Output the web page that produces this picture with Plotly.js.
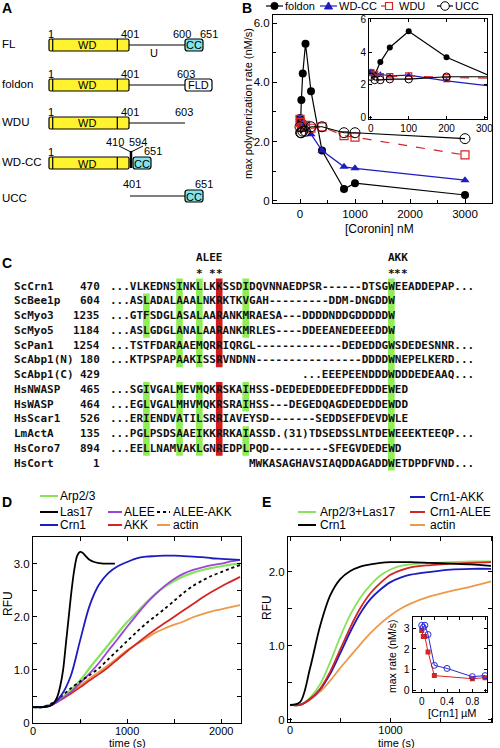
<!DOCTYPE html>
<html>
<head>
<meta charset="utf-8">
<script src="https://cdn.plot.ly/plotly-3.0.1.min.js"></script>
<style>
html,body{margin:0;padding:0;background:#fff;overflow:hidden}
#chart{width:500px;height:748px}
</style>
</head>
<body>
<div id="chart"></div>
<script>
// ================= DATA =================
// Panel A : constructs
const constructNames = ['FL', 'foldon', 'WDU', 'WD-CC', 'UCC'];

// Panel B : max polymerization rate vs coronin
const coroninConc = [0, 10, 25, 50, 100, 200, 400, 800, 1000, 3000];
const foldonRate  = [2.8, 2.6, 3.4, 4.3, 5.3, 3.7, 1.7, 0.4, 0.6, 0.2];
const wdccRate    = [2.8, 2.6, 2.65, 2.55, 2.6, 2.25, 1.7, 1.15, 1.1, 0.7];
const wduRate     = [2.75, 2.65, 2.5, 2.5, 2.55, 2.45, 2.5, 2.2, 2.15, 1.55];
const uccRate     = [2.5, 2.3, 2.3, 2.35, 2.35, 2.5, 2.5, 2.3, 2.3, 2.1];

// Panel C : alignment
const seqNames  = ['ScCrn1','ScBee1p','ScMyo3','ScMyo5','ScPan1','ScAbp1(N)','ScAbp1(C)','HsNWASP','HsWASP','HsScar1','LmActA','HsCoro7','HsCort'];
const seqStarts = ['470','604','1235','1184','1254','180','429','465','464','526','135','894','1'];
const seqTexts  = [
  '...VLKEDNSINKLLKKSSDIDQVNNAEDPSR------DTSGWEEADDEPAP...',
  '...ASLADALAAALNKRKTKVGAH---------DDM-DNGDDW',
  '...GTFSDGLASALAARANKMRAESA---DDDDNDDGDDDDDW',
  '...ASLGDGLANALAARANKMRLES----DDEEANEDEEEDDW',
  '...TSTFDARAAEMQRRIQRGL-------------DEDEDDGWSDEDESNNR...',
  '...KTPSPAPAAKISSRVNDNN----------------DDDDWNEPELKERD...',
  '...EEEPEENDDDWDDDEDEAAQ...',
  '...SGIVGALMEVMQKRSKAIHSS-DEDEDEDDEEDFEDDDEWED',
  '...EGLVGALMHVMQKRSRAIHSS---DEGEDQAGDEDEDDEWDD',
  '...ERIENDVATILSRRIAVEYSD-------SEDDSEFDEVDWLE',
  '...PGLPSDSAAEIKKRRKAIASSD.(31)TDSEDSSLNTDEWEEEKTEEQP...',
  '...EELLNAMVAKLGNREDPLPQD---------SFEGVDEDEWD',
  'MWKASAGHAVSIAQDDAGADDWETDPDFVND...'
];
const seqColOffset = [0,0,0,0,0,0,29,0,0,0,0,0,21];
const greenCols = [5, 10, 13, 20, 42];
const greenRows = [
  [1,2,3,7,8,9,10,11],
  [0,1,2,3,4,5,7,8,9,10,11],
  [0,1,2,3,4,5,7,8,9,10,11],
  [0,1,2,3,7,8,10,11],
  [0,1,2,3,4,5,6,7,8,9,10,11,12]
];
const redCols = [16];
const redRows = [[0,1,2,3,4,5,7,8,9,10,11]];

// Panel D : pyrene assays
const timeD    = [0,100,200,300,400,500,600,700,800,900,1000,1100,1200,1300,1400,1500,1600,1700,1800,1900,2000,2100,2200];
const arp23D   = [0.3,0.3,0.36,0.47,0.62,0.8,1.03,1.25,1.47,1.69,1.9,2.08,2.26,2.43,2.56,2.67,2.76,2.83,2.88,2.92,2.95,2.98,3.0];
const crn1D    = [0.3,0.3,0.34,0.52,0.88,1.55,2.2,2.6,2.82,2.95,3.03,3.1,3.13,3.14,3.15,3.15,3.14,3.13,3.12,3.1,3.09,3.08,3.07];
const aleeD    = [0.3,0.3,0.35,0.45,0.58,0.75,0.93,1.13,1.36,1.58,1.81,2.03,2.24,2.42,2.58,2.71,2.81,2.88,2.93,2.97,3.0,3.04,3.07];
const aleeAkkD = [0.3,0.3,0.37,0.5,0.65,0.78,0.9,1.03,1.2,1.37,1.54,1.71,1.87,2.01,2.15,2.3,2.45,2.58,2.68,2.77,2.84,2.91,2.97];
const akkD     = [0.3,0.3,0.34,0.44,0.55,0.67,0.8,0.92,1.05,1.2,1.35,1.49,1.63,1.76,1.88,2.0,2.12,2.24,2.36,2.47,2.57,2.66,2.75];
const actinD   = [0.3,0.3,0.34,0.45,0.57,0.7,0.84,0.96,1.09,1.23,1.37,1.48,1.59,1.7,1.78,1.85,1.91,1.99,2.05,2.1,2.14,2.18,2.22];
const timeLas17 = [0,100,180,230,260,290,320,350,380,410,440,470,500,530,560,600,650,700,750,800,870];
const las17D    = [0.3,0.3,0.32,0.4,0.5,0.7,1.0,1.5,2.0,2.5,2.9,3.15,3.22,3.2,3.14,3.07,3.03,3.01,3.0,3.0,3.0];

// Panel E
const timeE      = [0,100,200,300,400,500,600,700,800,900,1000,1100,1200,1400,1600,1800,2000];
const arpLasE    = [0.2,0.2,0.3,0.48,0.78,1.12,1.42,1.65,1.82,1.95,2.03,2.08,2.1,2.12,2.13,2.14,2.14];
const crn1E      = [0.2,0.24,0.7,1.27,1.68,1.9,2.01,2.07,2.1,2.12,2.13,2.13,2.13,2.12,2.11,2.1,2.08];
const crn1AkkE   = [0.2,0.2,0.28,0.41,0.62,0.9,1.19,1.44,1.63,1.76,1.86,1.92,1.96,2.0,2.03,2.04,2.04];
const crn1AleeE  = [0.2,0.2,0.28,0.42,0.65,0.95,1.25,1.51,1.71,1.85,1.96,2.02,2.06,2.09,2.11,2.12,2.13];
const actinE     = [0.2,0.2,0.27,0.38,0.53,0.7,0.86,1.02,1.17,1.3,1.41,1.5,1.57,1.67,1.74,1.8,1.87];
const crn1ConcAkk  = [0,0.025,0.05,0.1,0.2,0.4,0.8,1.0];
const maxRateAkk   = [3.15,3.05,3.15,2.7,1.2,1.05,0.65,0.7];
const crn1ConcAlee = [0,0.025,0.05,0.1,0.2,0.8,1.0];
const maxRateAlee  = [2.9,2.6,2.6,1.85,0.7,0.55,0.6];

// ================= HELPERS =================
const W = 500, H = 748;
const fx = x => x / W, fy = y => 1 - y / H;
const P = (x, y) => fx(x).toFixed(5) + ',' + fy(y).toFixed(5);
const FONT = 'Liberation Sans, Arial, Helvetica, sans-serif';
const MONO = 'DejaVu Sans Mono, monospace';
const BLUE = '#1c1cc0', RED = '#d42424', GREEN = '#86e35a', PURPLE = '#9b45d6', ORANGE = '#ec9a4a';

const shapes = [], annotations = [];
function txt(s, x, y, o = {}) {
  annotations.push({
    text: s, x: fx(x), y: fy(y), xref: 'paper', yref: 'paper', showarrow: false,
    xanchor: o.xa || 'center', yanchor: o.ya || 'middle', textangle: o.angle || 0,
    font: {family: o.family || FONT, size: o.size || 11, color: o.color || '#000'},
    borderpad: 0, borderwidth: 0
  });
}
function seg(x0, y0, x1, y1, color = '#000', w = 1, dash = 'solid') {
  shapes.push({type: 'line', xref: 'paper', yref: 'paper', x0: fx(x0), y0: fy(y0), x1: fx(x1), y1: fy(y1), line: {color, width: w, dash}});
}
function box(x0, y0, x1, y1, fill, r = 0, lw = 1.2) {
  if (!r) {
    shapes.push({type: 'rect', xref: 'paper', yref: 'paper', x0: fx(x0), x1: fx(x1), y0: fy(y1), y1: fy(y0), fillcolor: fill, line: {color: '#000', width: lw}});
  } else {
    const path = `M${P(x0 + r, y0)} L${P(x1 - r, y0)} Q${P(x1, y0)} ${P(x1, y0 + r)} L${P(x1, y1 - r)} Q${P(x1, y1)} ${P(x1 - r, y1)} L${P(x0 + r, y1)} Q${P(x0, y1)} ${P(x0, y1 - r)} L${P(x0, y0 + r)} Q${P(x0, y0)} ${P(x0 + r, y0)} Z`;
    shapes.push({type: 'path', xref: 'paper', yref: 'paper', path, fillcolor: fill, line: {color: '#000', width: lw}});
  }
}
function circ(cx, cy, r, fill, color, lw = 1) {
  shapes.push({type: 'circle', xref: 'paper', yref: 'paper', x0: fx(cx - r), x1: fx(cx + r), y0: fy(cy + r), y1: fy(cy - r), fillcolor: fill, line: {color, width: lw}});
}

// ================= PANEL LETTERS =================
txt('<b>A</b>', 2, 8, {xa: 'left', size: 14});
txt('<b>B</b>', 242, 8, {xa: 'left', size: 14});
txt('<b>C</b>', 2, 263, {xa: 'left', size: 14});
txt('<b>D</b>', 2, 502, {xa: 'left', size: 14});
txt('<b>E</b>', 262, 502, {xa: 'left', size: 14});

// ================= PANEL A =================
const rowY = [45, 85, 123, 163, 196];
const YEL = '#fff22e', CYAN = '#84e2ea';
constructNames.forEach((n, i) => txt(n, 2, rowY[i] - (i === 4 ? -2 : 1), {xa: 'left', size: 11.5}));
function wdBox(y) {
  box(49, y - 6, 129, y + 6, YEL, 1.5);
  seg(52.7, y - 6, 52.7, y + 6, '#000', 1.2);
  seg(117.3, y - 6, 117.3, y + 6, '#000', 1.2);
  txt('WD', 87, y + 0.5, {size: 11});
}
function ccBox(x0, x1, y, label, fill) {
  box(x0, y - 6, x1, y + 6, fill, 2.5);
  txt(label, (x0 + x1) / 2, y + 0.5, {size: 11});
}
// FL
seg(129, 45, 185, 45); wdBox(45); ccBox(185, 203, 45, 'CC', CYAN);
txt('1', 51, 34); txt('401', 130, 34); txt('600', 182, 34); txt('651', 209, 34); txt('U', 154, 53);
// foldon
seg(129, 85, 185, 85); wdBox(85); ccBox(185, 212, 85, 'FLD', '#fff');
txt('1', 51, 73.5); txt('401', 130, 73.5); txt('603', 186, 73.5);
// WDU
seg(129, 123, 185, 123); wdBox(123);
txt('1', 51, 112); txt('401', 130, 112); txt('603', 184, 112);
// WD-CC
wdBox(163); ccBox(133, 151, 163, 'CC', CYAN);
seg(119, 146, 131, 152, '#000', 1); seg(143, 146, 131, 152, '#000', 1); seg(131, 151, 131, 168, '#000', 2.5);
txt('1', 51, 152); txt('410', 115, 141.5); txt('594', 138, 141.5); txt('651', 153, 151);
// UCC
seg(130, 196, 185, 196); ccBox(185, 203, 196, 'CC', CYAN);
txt('401', 132, 183.5); txt('651', 204, 183.5);

// ================= PANEL B legend =================
const LY = 6;
seg(266, LY, 283, LY, '#000', 1.2); circ(274.5, LY, 3.6, '#000', '#000'); txt('foldon', 285, LY, {xa: 'left', size: 11});
seg(320, LY, 337, LY, BLUE, 1.2);
shapes.push({type: 'path', xref: 'paper', yref: 'paper', path: `M${P(324.5, LY + 3)} L${P(332.5, LY + 3)} L${P(328.5, LY - 4)} Z`, fillcolor: BLUE, line: {color: BLUE, width: 1}});
txt('WD-CC', 339, LY, {xa: 'left', size: 11});
seg(381, LY, 397, LY, RED, 1.2, 'dash');
shapes.push({type: 'rect', xref: 'paper', yref: 'paper', x0: fx(385.5), x1: fx(392.5), y0: fy(LY + 3.5), y1: fy(LY - 3.5), fillcolor: '#fff', line: {color: RED, width: 1.2}});
txt('WDU', 399, LY, {xa: 'left', size: 11});
seg(437, LY, 453, LY, '#000', 1.2); circ(445, LY, 4.3, '#fff', '#000', 1);
txt('UCC', 455, LY, {xa: 'left', size: 11});

txt('max polymerization rate (nM/s)', 248, 104, {angle: -90, size: 11});
txt('[Coronin] nM', 379, 229, {size: 12});

// ================= PANEL C =================
const CX = 'x3', CY = 'y3';
function runs(rows) {
  const out = []; let s = rows[0], p = rows[0];
  for (let k = 1; k < rows.length; k++) {
    if (rows[k] === p + 1) { p = rows[k]; } else { out.push([s, p]); s = p = rows[k]; }
  }
  out.push([s, p]); return out;
}
function hl(cols, rowsList, color) {
  cols.forEach((c, i) => runs(rowsList[i]).forEach(([a, b]) => {
    shapes.push({type: 'rect', xref: CX, yref: CY, x0: c - 0.5, x1: c + 0.5, y0: a - 0.5, y1: b + 0.5, fillcolor: color, line: {width: 0}, layer: 'below'});
  }));
}
hl(greenCols, greenRows, '#8fee55');
hl(redCols, redRows, '#d01c1c');
function ctxt(s, c, r, xa) {
  annotations.push({text: '<b>' + s + '</b>', x: c, y: r, xref: CX, yref: CY, showarrow: false, xanchor: xa, yanchor: 'middle',
    font: {family: MONO, size: 11, color: '#111'}, borderpad: 0, borderwidth: 0});
}
seqNames.forEach((n, r) => {
  ctxt(n, -15, r, 'left');
  ctxt(seqStarts[r], -2, r, 'right');
  ctxt(seqTexts[r], seqColOffset[r] - 0.5, r, 'left');
});
ctxt('ALEE', 12.5, -1.9, 'left');
[13, 15, 16].forEach(c => ctxt('*', c, -0.85, 'center'));
ctxt('AKK', 41.5, -1.9, 'left');
[42, 43, 44].forEach(c => ctxt('*', c, -0.85, 'center'));

// ================= PANEL D legend =================
const dRows = [496, 512, 525];
function legItem(x0, x1, y, color, dash, label, tx) {
  seg(x0, y, x1, y, color, 2, dash); txt(label, tx, y, {xa: 'left', size: 12});
}
legItem(40, 58, dRows[0], GREEN, 'solid', 'Arp2/3', 60);
legItem(40, 58, dRows[1], '#000', 'solid', 'Las17', 60);
legItem(40, 58, dRows[2], BLUE, 'solid', 'Crn1', 60);
legItem(108, 122, dRows[1], PURPLE, 'solid', 'ALEE', 124);
legItem(108, 122, dRows[2], RED, 'solid', 'AKK', 124);
legItem(157, 170, dRows[1], '#000', 'dot', 'ALEE-AKK', 173);
legItem(157, 170, dRows[2], ORANGE, 'solid', 'actin', 173);
txt('time (s)', 127, 742.5, {size: 11});
txt('RFU', 8, 604, {angle: -90, size: 12});

// ================= PANEL E legend =================
const eRows = [497, 512, 525];
legItem(410, 425, eRows[0], BLUE, 'solid', 'Crn1-AKK', 430);
legItem(298, 316, eRows[1], GREEN, 'solid', 'Arp2/3+Las17', 320);
legItem(410, 425, eRows[1], RED, 'solid', 'Crn1-ALEE', 430);
legItem(298, 316, eRows[2], '#000', 'solid', 'Crn1', 320);
legItem(410, 425, eRows[2], ORANGE, 'solid', 'actin', 430);
txt('time (s)', 396, 742.5, {size: 11});
txt('RFU', 267, 608, {angle: -90, size: 12});
txt('max rate (nM/s)', 392, 656, {angle: -90, size: 10.5});
txt('[Crn1] µM', 452, 713, {size: 11});

// ================= TRACES =================
const traces = [];
function bSeries(xa, ya, inset) {
  const s = inset ? 0.75 : 1;
  traces.push({x: coroninConc, y: foldonRate, xaxis: xa, yaxis: ya, mode: 'lines+markers', line: {color: '#000', width: 1.2}, marker: {symbol: 'circle', size: 8 * s, color: '#000'}});
  traces.push({x: coroninConc, y: wdccRate, xaxis: xa, yaxis: ya, mode: 'lines+markers', line: {color: BLUE, width: 1.2}, marker: {symbol: 'triangle-up', size: 8 * s, color: BLUE}});
  traces.push({x: coroninConc, y: wduRate, xaxis: xa, yaxis: ya, mode: 'lines+markers', line: {color: RED, width: 1.2, dash: 'dash'}, marker: {symbol: 'square-open', size: 8 * s, color: RED, line: {width: 1.2}}});
  traces.push({x: coroninConc, y: uccRate, xaxis: xa, yaxis: ya, mode: 'lines+markers', line: {color: '#000', width: 1.1}, marker: {symbol: 'circle-open', size: 10 * s, color: '#000', line: {width: 1}}});
}
bSeries('x', 'y', false);
bSeries('x2', 'y2', true);

function curve(x, y, xa, ya, color, dash, w) {
  traces.push({x, y, xaxis: xa, yaxis: ya, mode: 'lines', line: {color, width: w || 1.8, dash: dash || 'solid', shape: 'spline', smoothing: 0.9}, hoverinfo: 'skip'});
}
curve(timeD, actinD, 'x4', 'y4', ORANGE);
curve(timeD, akkD, 'x4', 'y4', RED);
curve(timeD, arp23D, 'x4', 'y4', GREEN, 'solid', 2.2);
curve(timeD, aleeD, 'x4', 'y4', PURPLE);
curve(timeD, aleeAkkD, 'x4', 'y4', '#000', 'dot', 1.8);
curve(timeD, crn1D, 'x4', 'y4', BLUE);
curve(timeLas17, las17D, 'x4', 'y4', '#000');

curve(timeE, actinE, 'x5', 'y5', ORANGE);
curve(timeE, arpLasE, 'x5', 'y5', GREEN);
curve(timeE, crn1AkkE, 'x5', 'y5', BLUE);
curve(timeE, crn1AleeE, 'x5', 'y5', RED);
curve(timeE, crn1E, 'x5', 'y5', '#000');

traces.push({x: crn1ConcAlee, y: maxRateAlee, xaxis: 'x6', yaxis: 'y6', mode: 'lines+markers', line: {color: RED, width: 1}, marker: {symbol: 'square', size: 5, color: RED}});
traces.push({x: crn1ConcAkk, y: maxRateAkk, xaxis: 'x6', yaxis: 'y6', mode: 'lines+markers', line: {color: '#2a2ad4', width: 1}, marker: {symbol: 'circle-open', size: 6, color: '#2a2ad4', line: {width: 1}}});

// ================= AXES =================
function ax(o) {
  return Object.assign({showgrid: false, zeroline: false, showline: true, linecolor: '#000', linewidth: 1,
    ticks: 'inside', ticklen: 4, tickwidth: 1, tickcolor: '#000', mirror: 'ticks', autorange: false,
    tickfont: {family: FONT, size: 11.5, color: '#000'}, fixedrange: true}, o);
}
const layout = {
  width: W, height: H, margin: {l: 0, r: 0, t: 0, b: 0}, paper_bgcolor: '#fff', plot_bgcolor: '#fff',
  showlegend: false, font: {family: FONT, size: 11, color: '#000'}, hovermode: false,
  // B main
  xaxis: ax({domain: [273 / W, 492 / W], range: [-491, 3491], tickvals: [0, 1000, 2000, 3000], ticktext: ['0', '1000', '2000', '3000'], mirror: true, anchor: 'y',
    minor: {tickvals: [-500, 500, 1500, 2500, 3500], ticks: 'inside', ticklen: 3, tickcolor: '#000'}}),
  yaxis: ax({domain: [fy(203), fy(15)], range: [-0.07, 6.27], tickvals: [0, 2, 4, 6], ticktext: ['0', '2.0', '4.0', '6.0'], mirror: true, anchor: 'x',
    minor: {tickvals: [1, 3, 5], ticks: 'inside', ticklen: 3, tickcolor: '#000'}}),
  // B inset
  xaxis2: ax({domain: [369 / W, 487 / W], range: [-5, 307], tickvals: [0, 100, 200, 300], ticklen: 3, anchor: 'y2', tickfont: {family: FONT, size: 10}}),
  yaxis2: ax({domain: [fy(119), fy(19)], range: [-0.1, 6.05], tickvals: [0, 2, 4, 6], ticklen: 3, anchor: 'x2', tickfont: {family: FONT, size: 10}}),
  // C alignment
  xaxis3: {domain: [10.7 / W, 480.7 / W], range: [-15.5, 55.5], visible: false, fixedrange: true, anchor: 'y3'},
  yaxis3: {domain: [fy(475), fy(250)], range: [12.81, -2.44], visible: false, fixedrange: true, anchor: 'x3'},
  // D
  xaxis4: ax({domain: [33 / W, 241 / W], range: [0, 2210], tickvals: [0, 500, 1000, 1500, 2000], ticktext: ['0', '', '1000', '', '2000'], anchor: 'y4', ticklabelstandoff: -2, tickfont: {family: FONT, size: 11, color: '#000'}}),
  yaxis4: ax({domain: [fy(723), fy(537)], range: [0, 3.5], tickvals: [0, 0.5, 1, 1.5, 2, 2.5, 3], ticktext: ['0', '', '1.0', '', '2.0', '', '3.0'], anchor: 'x4'}),
  // E
  xaxis5: ax({domain: [288 / W, 492 / W], range: [-20, 2010], tickvals: [0, 500, 1000, 1500, 2000], ticktext: ['0', '', '1000', '', '2000'], anchor: 'y5', ticklabelstandoff: -2, tickfont: {family: FONT, size: 11, color: '#000'}}),
  yaxis5: ax({domain: [fy(722), fy(537)], range: [-0.03, 2.47], tickvals: [0, 0.5, 1, 1.5, 2], ticktext: ['0', '', '1.0', '', '2.0'], anchor: 'x5'}),
  // E inset
  xaxis6: ax({domain: [412.7 / W, 487.3 / W], range: [-0.142, 1.036], tickvals: [0, 0.2, 0.4, 0.6, 0.8, 1.0], ticktext: ['0', '', '0.4', '', '0.8', ''], ticklen: 3, anchor: 'y6', tickfont: {family: FONT, size: 10, color: '#000'}}),
  yaxis6: ax({domain: [fy(692), fy(616.7)], range: [-0.097, 3.567], tickvals: [0, 1, 2, 3], ticklen: 3, anchor: 'x6', tickfont: {family: FONT, size: 10.5, color: '#000'}}),
  shapes, annotations
};

Plotly.newPlot('chart', traces, layout, {staticPlot: true, displayModeBar: false});
</script>
</body>
</html>
